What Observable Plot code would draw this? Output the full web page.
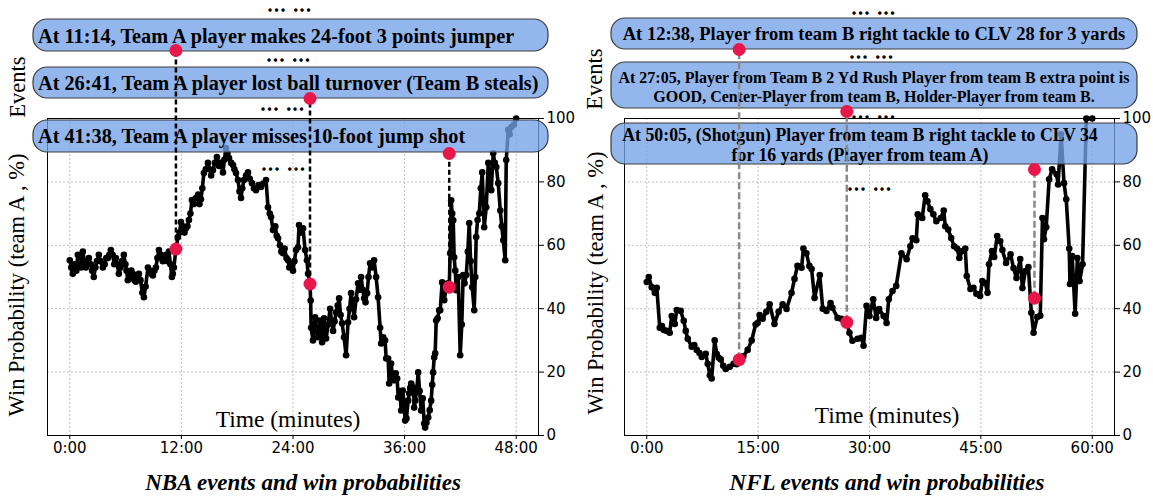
<!DOCTYPE html>
<html><head><meta charset="utf-8">
<script src="https://cdn.jsdelivr.net/npm/d3@7"></script>
<script src="https://cdn.jsdelivr.net/npm/@observablehq/plot@0.6"></script>
<style>
body{margin:0;background:#fff;}
#fig{position:relative;width:1153px;height:497px;overflow:hidden;background:#fff;}
.panel{position:absolute;top:0;}
.lbl{position:absolute;white-space:nowrap;color:#000;line-height:1;font-family:"Liberation Serif","Times New Roman",serif;}
</style></head><body><div id="fig"></div>
<script>
// ---------- DATA ----------
const nbaTime = [0.00,0.16,0.32,0.54,0.70,0.86,1.05,1.22,1.40,1.56,1.72,1.88,2.05,2.25,2.40,2.58,2.75,2.92,3.12,3.30,3.55,3.75,3.92,4.09,4.25,4.41,4.60,4.78,4.95,5.10,5.27,5.45,5.62,5.81,5.98,6.10,6.24,6.45,6.62,6.78,6.95,7.10,7.25,7.43,7.60,7.80,7.97,8.15,8.40,8.60,8.76,8.93,9.10,9.26,9.42,9.58,9.80,10.00,10.12,10.35,10.50,10.66,10.82,10.98,11.08,11.19,11.41,11.63,11.80,11.95,12.15,12.33,12.49,12.65,12.81,12.97,13.13,13.35,13.56,13.80,13.95,14.10,14.25,14.42,14.62,14.85,15.05,15.20,15.39,15.60,15.82,16.05,16.25,16.47,16.62,16.79,16.95,17.12,17.35,17.55,17.70,17.87,18.08,18.25,18.41,18.55,18.73,18.95,19.16,19.35,19.59,19.80,20.02,20.30,20.56,20.80,21.10,21.31,21.50,21.64,21.85,22.10,22.25,22.39,22.60,22.75,22.93,23.10,23.30,23.47,23.60,23.80,24.00,24.15,24.33,24.54,24.65,24.85,25.08,25.30,25.50,25.62,25.83,25.90,25.95,26.15,26.37,26.55,26.69,26.91,27.02,27.13,27.34,27.45,27.56,27.78,27.99,28.15,28.31,28.47,28.63,28.80,28.96,29.12,29.28,29.49,29.71,29.92,30.08,30.25,30.40,30.57,30.78,31.00,31.15,31.32,31.50,31.65,31.80,31.97,32.12,32.29,32.50,32.72,32.94,33.15,33.37,33.48,33.70,33.90,34.02,34.23,34.34,34.55,34.70,34.88,35.05,35.20,35.31,35.50,35.63,35.80,35.95,36.06,36.20,36.38,36.49,36.60,36.71,36.92,37.03,37.14,37.30,37.46,37.62,37.78,37.95,38.11,38.21,38.35,38.54,38.70,38.86,38.97,39.07,39.18,39.29,39.40,39.55,39.72,39.83,40.04,40.15,40.26,40.50,40.65,40.80,40.90,41.01,41.12,41.23,41.33,41.45,41.55,41.77,41.98,42.15,42.30,42.45,42.63,42.80,42.95,43.10,43.27,43.49,43.60,43.70,43.85,44.03,44.20,44.35,44.56,44.78,45.00,45.15,45.32,45.53,45.70,45.86,46.07,46.29,46.45,46.61,46.82,46.93,47.15,47.30,47.47,47.75,48.00];
const nbaWP = [55.3,53,51,54,52,57,55,53,58,55,53,54,56,54,52,50,53,55,57,55,53,54,56,56,57,58.5,57,54,56,54,51,53,55,57,54,52,49,50,52,51,49,48.5,50,51,49,45,43.6,47,53,52,51,50.5,52,53,56,58.5,57,55,56,57,55,58,54,50,51,53,58.8,62.6,64,67.3,66,64,65.4,66,68,70,74.3,73,74.9,76,73,74.5,78,82.8,84,86,84,82,83.7,86,87.8,85,86,83,87,90.7,89,87.5,86,85.3,84,82.8,80.6,77,74.9,78,80.6,82,83,81,79.6,78,77.4,79,78.4,79.5,80.6,72,70,68.9,64.8,66,63,62.2,60,58,57.5,59,56,55.3,53,54,52,55,58.5,59.4,66.4,64,65.4,58.5,55.3,51,47.8,42.6,34,30,37.3,33,31,36.3,33,29.4,37,33,30.6,35,40,36,33,36,38.9,41,43.3,38,35.4,31,25.3,35.7,40,44.9,41,37.3,43,48,46,50,46,43.3,42,44.9,50,54.3,53,55.3,50,43.6,34,29,31,30,24.3,24.3,16.4,22.7,19,17.4,19.6,18,12,14,7.9,14.2,10.1,4.7,5.4,11,13.3,15,16.4,15.2,8.8,11,14,19.9,14,7.9,11.7,3.8,2.5,4,5.7,8,11,16,19.9,24.6,25.9,36.3,37,39.5,39.5,48.3,45,42.7,47,48,46.8,57.5,74.2,70,67.9,56.2,52,45.8,50,25.3,35,50.6,48,50.6,58,67,55,46.8,39.5,50,62.6,68,70,78,83,65.7,72,86,82,77.4,89,86,84.7,79.6,71,66,61.6,55.3,86.9,96.4,95,97.3,98,100];

const nflTime = [0.00,0.27,0.67,1.08,1.35,1.75,2.05,2.29,2.70,3.09,3.36,3.77,4.04,4.57,4.98,5.25,5.52,6.05,6.40,6.73,7.10,7.40,7.94,8.21,8.50,8.74,9.15,9.42,9.70,9.96,10.30,10.63,11.17,11.70,12.10,12.44,13.00,13.59,14.13,14.66,14.93,15.20,15.60,16.10,16.55,17.20,17.76,18.30,18.83,19.50,19.90,20.30,20.85,21.10,21.50,21.90,22.20,22.60,23.30,23.70,24.20,24.75,25.00,25.70,26.20,26.94,27.30,27.70,28.40,28.90,29.20,29.60,30.00,30.50,30.90,31.30,31.90,32.30,32.60,33.10,33.60,34.30,35.00,35.50,35.80,36.30,36.50,37.10,37.50,37.80,38.20,38.60,39.00,39.60,40.00,40.20,40.60,41.00,41.40,41.80,42.10,42.50,42.90,43.10,43.60,44.00,44.40,44.90,45.20,45.60,45.90,46.10,46.50,46.80,47.20,47.60,47.90,48.40,49.00,49.40,49.80,50.30,50.60,51.00,51.40,51.80,52.10,52.60,53.00,53.30,53.50,53.80,54.20,54.60,55.20,55.40,55.80,56.20,56.50,56.90,57.00,57.30,57.70,58.00,58.30,58.70,59.20,60.00];
const nflWP = [48.4,50,46.8,45,46.6,34,34.5,33.3,33,32.4,37.7,35.2,39.6,39.3,36.2,33,30.5,28,28.5,27,26,24.8,25.8,22.6,19,18,30,25.7,24.5,24,22,21,21.7,22.6,22.5,23.9,25,27,30,35,35.5,38,36.8,39,41.4,35.2,39,41.4,39.9,45,49.4,53.5,52.9,59,57.5,53.5,52.5,43.4,50.6,40,39.3,41.8,40.3,37.1,36.8,35.7,32.4,29.9,30.5,30.8,28.3,40.9,37.7,43,37.1,39.9,37.7,35.5,43,45.6,47.2,57.5,55.6,59.7,62.2,61.6,69.8,68.6,75.8,73.9,71.4,69.8,67.6,68.6,71,66,65,62.3,59.7,59,56,58.2,59,50.3,46.2,46.6,44.7,44,48.7,48.1,45,54,58.2,56.3,62.9,61.3,58.5,54.4,57.2,52.8,49.7,55.7,46.5,51.9,53.1,38.7,32.4,37.4,37.8,68.6,61.9,65.7,80.8,84,82.4,79.2,95,79.6,74.5,59,47.8,56.6,38.4,56,48.7,54,100,100];

const nbaTicks = [0, 12, 24, 36, 48];
const nflTicks = [0, 15, 30, 45, 60];
const yTicks = [0, 20, 40, 60, 80, 100];

const nbaEventTime = [11.41, 25.83, 40.80];
const nbaEventWP = [58.8, 47.8, 46.8];
const nbaEventText = [
  "At 11:14, Team A player makes 24-foot 3 points jumper",
  "At 26:41, Team A player lost ball turnover (Team B steals)",
  "At 41:38, Team A player misses 10-foot jump shot"
];
const nflEventTime = [12.44, 26.94, 52.22];
const nflEventWP = [23.9, 35.7, 43.3];
const nflEventText = [
  "At 12:38, Player from team B right tackle to CLV 28 for 3 yards",
  "At 27:05, Player from Team B 2 Yd Rush Player from team B extra point is\nGOOD, Center-Player from team B, Holder-Player from team B.",
  "At 50:05, (Shotgun) Player from team B right tackle to CLV 34\nfor 16 yards (Player from team A)"
];

// ---------- LAYOUT (pixels) ----------
const H = 460, MT = 118, MB = 25;
const RED = "#e8174a";
const SERIF = "Liberation Serif, Times New Roman, serif";
const leftLayout = {
  left: 0, width: 576, ml: 47, mr: 38, xDomain: [-2.4, 50.4],
  evColor: "#000", evDash: "5,3",
  dotTop: [50, 98, 153],
  boxes: [
    {x: 33, y: 19, w: 515, h: 32, tx: 38, ty: [35.5], anchor: "start", fs: 20.3},
    {x: 33, y: 67, w: 515, h: 31, tx: 38, ty: [82.5], anchor: "start", fs: 20.3},
    {x: 33, y: 120, w: 515, h: 32, tx: 38, ty: [136], anchor: "start", fs: 20.3}
  ],
  ellipses: [[291, 11], [290, 61], [284, 110], [285, 170]]
};
const rightLayout = {
  left: 576, width: 577, ml: 48, mr: 39, xDomain: [-3, 63],
  evColor: "#8a8a8a", evDash: "7,3",
  dotTop: [49, 111, 169],
  boxes: [
    {x: 611, y: 18, w: 526, h: 31, tx: 874, ty: [33.5], anchor: "middle", fs: 18.5},
    {x: 611, y: 62, w: 526, h: 46, tx: 874, ty: [77.5, 96.5], anchor: "middle", fs: 16},
    {x: 611, y: 123, w: 526, h: 41, tx: 860, ty: [134.5, 154.5], anchor: "middle", fs: 17.8}
  ],
  ellipses: [[875, 14], [873, 58], [875, 118], [871, 190]]
};

const fig = document.getElementById("fig");

function panel(time, wp, ticks, evTime, evWP, evText, L) {
  const y0 = H - MB;
  const yInv = d3.scaleLinear().domain([y0, MT]).range([0, 100]);
  const rows = time.map((t, i) => ({t, v: wp[i]}));
  const ev = evTime.map((t, i) => ({t, wp: evWP[i], top: yInv(L.dotTop[i])}));
  const svg = Plot.plot({
    width: L.width, height: H,
    marginLeft: L.ml, marginRight: L.mr, marginTop: MT, marginBottom: MB,
    style: {fontFamily: "DejaVu Sans", fontSize: "15px", background: "transparent", overflow: "visible", color: "#000"},
    x: {domain: L.xDomain, ticks: ticks, tickFormat: d => d + ":00", tickSize: 4, tickPadding: 3, label: null},
    y: {domain: [0, 100], axis: "right", ticks: yTicks, tickSize: 5, tickPadding: 3, label: null},
    marks: [
      Plot.ruleX(ticks, {stroke: "#b0b0b0", strokeWidth: 0.8, strokeDasharray: "2,2"}),
      Plot.ruleY(yTicks, {stroke: "#b0b0b0", strokeWidth: 0.8, strokeDasharray: "2,2"}),
      Plot.frame({stroke: "#000", strokeWidth: 1}),
      Plot.line(rows, {x: "t", y: "v", stroke: "#000", strokeWidth: 3.6, strokeLinejoin: "round"}),
      Plot.dot(rows, {x: "t", y: "v", r: 3.3, fill: "#000", stroke: "none"}),
      Plot.ruleX(ev, {x: "t", y1: "wp", y2: "top", stroke: L.evColor, strokeWidth: 2.5, strokeDasharray: L.evDash, ariaDescription: "events"}),
      Plot.dot(ev, {x: "t", y: "wp", r: 6.5, fill: RED, stroke: "none"}),
      Plot.dot(ev, {x: "t", y: "top", r: 6.5, fill: RED, stroke: "none"})
    ]
  });
  // annotation layer (boxes, texts) inserted beneath the event rules
  const ref = svg.querySelector('[aria-description="events"]');
  const g = document.createElementNS("http://www.w3.org/2000/svg", "g");
  svg.insertBefore(g, ref && ref.parentNode === svg ? ref : null);
  const sel = d3.select(g);
  L.boxes.forEach((b, i) => {
    sel.append("rect").attr("x", b.x - L.left).attr("y", b.y).attr("width", b.w).attr("height", b.h)
      .attr("rx", 14).attr("ry", 14)
      .attr("fill", "rgb(117,163,232)").attr("fill-opacity", 0.78)
      .attr("stroke", "#3c3c3c").attr("stroke-width", 1.2);
    evText[i].split("\n").forEach((ln, j) => {
      sel.append("text").attr("x", b.tx - L.left).attr("y", b.ty[j]).attr("dy", "0.35em")
        .attr("text-anchor", b.anchor).attr("font-family", SERIF).attr("font-weight", "bold")
        .attr("font-size", b.fs).attr("fill", "#000").text(ln);
    });
  });
  L.ellipses.forEach(([x, y]) => {
    sel.append("text").attr("x", x - L.left).attr("y", y).attr("text-anchor", "middle")
      .attr("font-family", SERIF).attr("font-weight", "bold").attr("font-size", 12)
      .attr("letter-spacing", 3.4).attr("fill", "#000")
      .attr("stroke", "#000").attr("stroke-width", 1.4)
      .text("... ...");
  });
  const div = document.createElement("div");
  div.className = "panel";
  div.style.left = L.left + "px";
  div.style.width = L.width + "px";
  div.appendChild(svg);
  fig.appendChild(div);
}

panel(nbaTime, nbaWP, nbaTicks, nbaEventTime, nbaEventWP, nbaEventText, leftLayout);
panel(nflTime, nflWP, nflTicks, nflEventTime, nflEventWP, nflEventText, rightLayout);

function label(text, x, y, size, opts = {}) {
  const d = document.createElement("div");
  d.className = "lbl";
  d.textContent = text;
  d.style.left = x + "px";
  d.style.top = y + "px";
  d.style.fontSize = size + "px";
  if (opts.bold) d.style.fontWeight = "bold";
  if (opts.italic) d.style.fontStyle = "italic";
  d.style.transform = "translate(-50%,-50%)" + (opts.rotate ? " rotate(-90deg)" : "");
  fig.appendChild(d);
}
label("Events", 18, 87, 22.5, {rotate: true});
label("Win Probability (team A , %)", 17, 285, 22.5, {rotate: true});
label("Events", 595, 79, 22.5, {rotate: true});
label("Win Probability (team A , %)", 596, 283, 22.5, {rotate: true});
label("Time (minutes)", 288, 420, 23.5);
label("Time (minutes)", 887, 416, 23.5);
label("NBA events and win probabilities", 303, 482, 23, {bold: true, italic: true});
label("NFL events and win probabilities", 887, 482, 23, {bold: true, italic: true});
</script></body></html>
